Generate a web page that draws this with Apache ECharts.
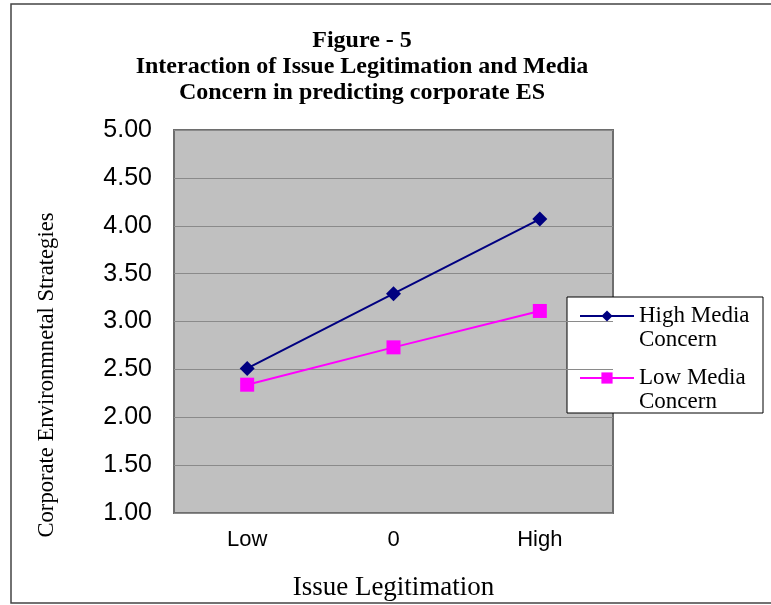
<!DOCTYPE html>
<html>
<head>
<meta charset="utf-8">
<script src="https://cdn.jsdelivr.net/npm/echarts@6/dist/echarts.min.js"></script>
<style>
  html, body { margin: 0; padding: 0; background: #fff; }
  #main { width: 771px; height: 605px; }
</style>
</head>
<body>
<div id="main"></div>
<script>
// chart data
const categories = ['Low', '0', 'High']
const highMedia = [2.51, 3.29, 4.07]
const lowMedia = [2.34, 2.73, 3.11]
const seriesNames = ['High Media Concern', 'Low Media Concern']

const serif = '"Liberation Serif", "Times New Roman", serif'
const sans = '"Liberation Sans", Arial, sans-serif'

const myChart = echarts.init(document.getElementById('main'), null, { renderer: 'canvas' })

const option = {
  backgroundColor: '#fff',
  animation: false,
  title: {
    text: 'Figure - 5\nInteraction of Issue Legitimation and Media\nConcern in predicting corporate ES',
    left: 357,
    top: 23,
    textAlign: 'center',
    textStyle: {
      fontFamily: serif,
      fontWeight: 'bold',
      fontSize: 24,
      lineHeight: 26,
      color: '#000'
    }
  },
  legend: {
    orient: 'vertical',
    left: 579,
    top: 280,
    padding: 0,
    itemGap: -10,
    itemWidth: 54,
    itemHeight: 14,
    data: seriesNames,
    // blank first line so the first text line sits on the icon
    formatter: name => ' \n' + name.replace(' Concern', '\nConcern'),
    textStyle: {
      fontFamily: serif,
      fontSize: 23,
      lineHeight: 24,
      color: '#000'
    }
  },
  grid: {
    left: 174,
    right: 158,
    top: 130,
    bottom: 92,
    outerBoundsMode: 'none',
    containLabel: false,
    show: true,
    backgroundColor: '#c0c0c0',
    borderColor: '#6e6e6e',
    borderWidth: 2
  },
  xAxis: {
    type: 'category',
    data: categories,
    boundaryGap: true,
    name: 'Issue Legitimation',
    nameLocation: 'middle',
    nameGap: 61,
    nameTextStyle: { fontFamily: serif, fontSize: 27, color: '#000' },
    axisLine: { show: false },
    axisTick: { show: false },
    axisLabel: { fontFamily: sans, fontSize: 22, color: '#000', margin: 16 }
  },
  yAxis: {
    type: 'value',
    min: 1,
    max: 5,
    interval: 0.5,
    axisLine: { show: false },
    axisTick: { show: false },
    axisLabel: {
      fontFamily: sans,
      fontSize: 25,
      color: '#000',
      margin: 22,
      formatter: v => v.toFixed(2)
    },
    splitLine: { lineStyle: { color: '#8a8a8a', width: 1 } }
  },
  graphic: [
    {
      type: 'rect',
      z: -10,
      shape: { x: 11, y: 4, width: 770, height: 599 },
      style: { fill: 'none', stroke: '#444', lineWidth: 1.5 }
    },
    {
      type: 'rect',
      z: 0,
      shape: { x: 567, y: 297, width: 196, height: 116 },
      style: { fill: '#fff', stroke: '#000', lineWidth: 1 }
    },
    {
      type: 'text',
      x: 47,
      y: 375,
      rotation: Math.PI / 2,
      style: {
        text: 'Corporate Environmnetal Strategies',
        font: '22.6px ' + serif,
        fill: '#000',
        align: 'center',
        verticalAlign: 'middle',
        textAlign: 'center',
        textVerticalAlign: 'middle'
      }
    }
  ],
  series: [
    {
      name: seriesNames[0],
      type: 'line',
      data: highMedia,
      symbol: 'diamond',
      symbolSize: 15,
      itemStyle: { color: '#000080' },
      lineStyle: { color: '#000080', width: 2 }
    },
    {
      name: seriesNames[1],
      type: 'line',
      data: lowMedia,
      symbol: 'rect',
      symbolSize: 14,
      itemStyle: { color: '#ff00ff' },
      lineStyle: { color: '#ff00ff', width: 2 }
    }
  ]
}

myChart.setOption(option)
</script>
</body>
</html>
